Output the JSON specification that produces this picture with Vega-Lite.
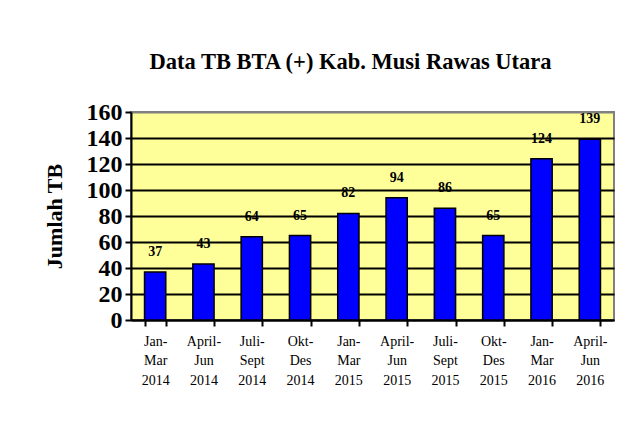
{
  "$schema": "https://vega.github.io/schema/vega-lite/v6.json",
  "width": 483,
  "height": 208,
  "autosize": "none",
  "padding": {"left": 131, "top": 112, "right": 26, "bottom": 103},
  "background": "white",
  "title": {
    "text": "Data TB BTA (+) Kab. Musi Rawas Utara",
    "font": "Liberation Serif",
    "fontSize": 22.5,
    "fontWeight": "bold",
    "color": "black",
    "anchor": "middle",
    "dx": -22,
    "offset": 27
  },
  "data": {
    "values": [
      {"periode": "Jan-Mar 2014", "jumlah": 37},
      {"periode": "April-Jun 2014", "jumlah": 43},
      {"periode": "Juli-Sept 2014", "jumlah": 64},
      {"periode": "Okt-Des 2014", "jumlah": 65},
      {"periode": "Jan-Mar 2015", "jumlah": 82},
      {"periode": "April-Jun 2015", "jumlah": 94},
      {"periode": "Juli-Sept 2015", "jumlah": 86},
      {"periode": "Okt-Des 2015", "jumlah": 65},
      {"periode": "Jan-Mar 2016", "jumlah": 124},
      {"periode": "April-Jun 2016", "jumlah": 139}
    ]
  },
  "encoding": {
    "x": {
      "field": "periode",
      "type": "nominal",
      "sort": null,
      "scale": {"paddingInner": 0.56, "paddingOuter": 0.28},
      "axis": {
        "title": null,
        "tickBand": "extent",
        "labelExpr": "isString(datum.value) ? [split(datum.value,'-')[0] + '-', split(split(datum.value,'-')[1],' ')[0], split(datum.value,' ')[1]] : ''",
        "labelFont": "Liberation Serif",
        "labelFontSize": 14,
        "labelLineHeight": 19.5,
        "labelAngle": 0,
        "labelColor": "black",
        "labelPadding": 8,
        "tickColor": "black",
        "tickSize": 6,
        "tickWidth": 2,
        "domainColor": "black",
        "domainWidth": 2,
        "grid": false
      }
    },
    "y": {
      "field": "jumlah",
      "type": "quantitative",
      "scale": {"domain": [0, 160], "nice": false},
      "axis": {
        "title": "Jumlah TB",
        "titleFont": "Liberation Serif",
        "titleFontSize": 22,
        "titleFontWeight": "bold",
        "titleColor": "black",
        "titlePadding": 20,
        "values": [0, 20, 40, 60, 80, 100, 120, 140, 160],
        "labelFont": "Liberation Serif",
        "labelFontSize": 24,
        "labelFontWeight": "bold",
        "labelColor": "black",
        "labelPadding": 3,
        "tickColor": "black",
        "tickSize": 6,
        "tickWidth": 2,
        "domainColor": "black",
        "domainWidth": 2,
        "grid": true,
        "gridColor": {"condition": {"test": "datum.value === 160", "value": "#808080"}, "value": "black"},
        "gridWidth": 2
      }
    }
  },
  "layer": [
    {
      "mark": {"type": "bar", "fill": "#0000FF", "stroke": "black", "strokeWidth": 1.5}
    },
    {
      "mark": {
        "type": "text",
        "dy": -20,
        "baseline": "middle",
        "font": "Liberation Serif",
        "fontSize": 14,
        "fontWeight": "bold",
        "color": "black"
      },
      "encoding": {"text": {"field": "jumlah", "type": "quantitative"}}
    }
  ],
  "config": {
    "view": {"fill": "#FFFF99", "stroke": "#808080", "strokeWidth": 2}
  }
}
